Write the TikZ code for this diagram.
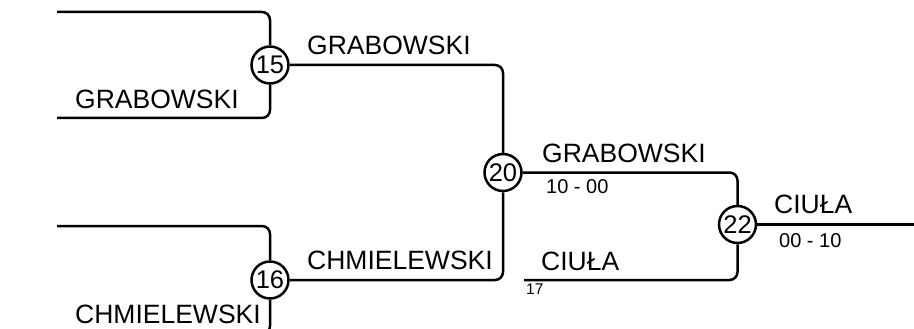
\documentclass[tikz,border=0pt]{standalone}
\usepackage{fontspec}
\setmainfont{Liberation Sans}
\tikzset{
    every node/.style={align=center,},
    matchno/.style={draw,circle,line width=2.5pt,minimum size=37pt,inner sep=0pt,font=\fontsize{25.5}{30}\selectfont,},
    player/.style={anchor=base west,inner sep=0pt,font=\fontsize{26.5}{31}\selectfont,},
    result/.style={anchor=base west,inner sep=0pt,font=\fontsize{20}{24}\selectfont,},
    seed/.style={anchor=base west,inner sep=0pt,font=\fontsize{15.5}{18}\selectfont,},
    bracket/.style={line width=2.5pt,rounded corners=8pt,},
}

\begin{document}
\begin{tikzpicture}[x=1pt,y=-1pt]
                \useasboundingbox (0,0) rectangle (914,329);
                \clip (0,0) rectangle (914,329);

                \node[matchno] (m15) at (270, 65) {15};
                \node[matchno] (m16) at (270, 280) {16};
                \node[matchno] (m20) at (503, 172.5) {20};
                \node[matchno] (m22) at (737.5, 224.5) {22};

                \coordinate (in15a) at (57, 12);
                \coordinate (in15b) at (57, 118);
                \coordinate (in16a) at (57, 226);
                \coordinate (in16b) at (57, 334);
                \coordinate (in17) at (524, 280);
                \coordinate (out22) at (914, 224.5);

                \node[player] (p15b) at (75, 108.5) {GRABOWSKI};
                \node[player] (p16b) at (75, 323) {CHMIELEWSKI};
                \node[player] (w15) at (307, 55) {GRABOWSKI};
                \node[player] (w16) at (307, 269.5) {CHMIELEWSKI};
                \node[player] (w20) at (542, 162) {GRABOWSKI};
                \node[result] (r20) at (546, 193) {10 - 00};
                \node[player] (p17) at (541, 270) {CIUŁA};
                \node[seed] (s17) at (526, 294) {17};
                \node[player] (w22) at (774, 213) {CIUŁA};
                \node[result] (r22) at (779, 247) {00 - 10};

                \draw[bracket] (in15a) -| (m15);
                \draw[bracket] (in15b) -| (m15);
                \draw[bracket] (in16a) -| (m16);
                \draw[bracket] (in16b) -| (m16);

                \draw[bracket] (m15) -| (m20);
                \draw[bracket] (m16) -| (m20);

                \draw[bracket] (m20) -| (m22);
                \draw[bracket] (in17) -| (m22);

                \draw[bracket] (m22) -- (out22);
            \end{tikzpicture}
\end{document}
